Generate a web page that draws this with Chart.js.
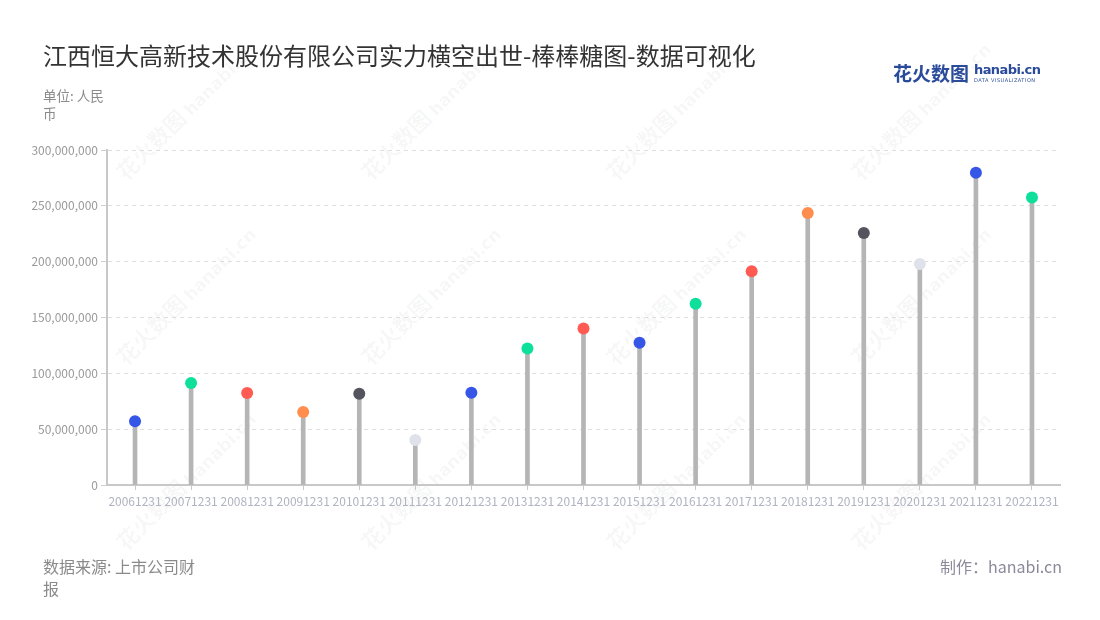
<!DOCTYPE html>
<html>
<head>
<meta charset="utf-8">
<script src="https://cdn.jsdelivr.net/npm/chart.js@4"></script>
<style>
  html, body { margin: 0; padding: 0; background: #fff; }
  body { width: 1100px; height: 620px; position: relative; overflow: hidden; font-family: "Noto Sans CJK SC", "Noto Sans", sans-serif; }
  #wrap { position: absolute; left: 0; top: 0; width: 1100px; height: 620px; }
  .title { position: absolute; left: 43px; top: 37px; font-size: 24px; color: #333; white-space: nowrap; }
  .unit { position: absolute; left: 43px; top: 86px; width: 72px; font-size: 13.5px; line-height: 18px; color: #8a8a8a; }
  .source { position: absolute; left: 43px; top: 555px; width: 158px; font-size: 16px; line-height: 22px; color: #8a8a8a; }
  .maker { position: absolute; right: 38px; top: 555px; font-size: 16px; line-height: 22px; color: #8a8a9a; white-space: nowrap; }
  .logo { position: absolute; left: 893px; top: 59px; white-space: nowrap; }
  .logo .cn { font-size: 19px; font-weight: bold; color: #2a4b9b; vertical-align: top; }
  .logo .en { display: inline-block; vertical-align: top; margin-left: 5px; line-height: 1; }
  .logo .en .big { font-size: 13px; font-weight: bold; color: #2a4b9b; font-family: "DejaVu Sans", sans-serif; letter-spacing: -0.6px; display: block; margin-top: 4px; }
  .logo .en .small { font-size: 5px; color: #2a4b9b; font-family: "DejaVu Sans", sans-serif; display: block; letter-spacing: 0.5px; margin-top: 2px; }
  .wm { position: absolute; white-space: nowrap; transform-origin: 0 100%; transform: rotate(-45deg); color: rgba(0,0,0,0.045); line-height: 1; }
  .wm .a { font-size: 22px; font-weight: bold; }
  .wm .b { font-size: 17px; font-weight: bold; font-family: "DejaVu Sans", sans-serif; margin-left: 4px; }
</style>
</head>
<body>
<div id="wmlayer"></div>
<div id="wrap"><canvas id="c" width="1100" height="620"></canvas></div>
<div class="title">江西恒大高新技术股份有限公司实力横空出世-棒棒糖图-数据可视化</div>
<div class="unit">单位: 人民币</div>
<div class="source">数据来源: 上市公司财报</div>
<div class="maker">制作：hanabi.cn</div>
<div class="logo"><span class="cn">花火数图</span><span class="en"><span class="big">hanabi.cn</span><span class="small">DATA VISUALIZATION</span></span></div>
<script>
const categories = ["20061231","20071231","20081231","20091231","20101231","20111231","20121231","20131231","20141231","20151231","20161231","20171231","20181231","20191231","20201231","20211231","20221231"];
const values = [57000000, 91300000, 82400000, 65400000, 81800000, 40300000, 82700000, 122300000, 140100000, 127300000, 162400000, 191500000, 243500000, 225600000, 197900000, 279600000, 257500000];
const pointColors = ["#3656e8","#0ee09c","#ff5b52","#ff8e4e","#54545e","#dfe2ea","#3656e8","#0ee09c","#ff5b52","#3656e8","#0ee09c","#ff5b52","#ff8e4e","#54545e","#dfe2ea","#3656e8","#0ee09c"];
const yTicks = [0, 50000000, 100000000, 150000000, 200000000, 250000000, 300000000];

// faint background watermarks
const wmLayer = document.getElementById('wmlayer');
const wmCols = [128, 373, 618, 863];
const wmRows = [182, 367, 552];
wmRows.forEach(r => wmCols.forEach(c => {
  const d = document.createElement('div');
  d.className = 'wm';
  d.style.left = c + 'px';
  d.style.top = (r - 22) + 'px';
  d.innerHTML = '<span class="a">花火数图</span><span class="b">hanabi.cn</span>';
  wmLayer.appendChild(d);
}));

const FONT = '"Noto Sans CJK SC", "Noto Sans", sans-serif';

new Chart(document.getElementById('c'), {
  data: {
    labels: categories,
    datasets: [
      {
        type: 'line',
        data: values,
        showLine: false,
        pointRadius: 6,
        pointHoverRadius: 6,
        pointBorderWidth: 0,
        pointBackgroundColor: pointColors,
        pointBorderColor: pointColors,
        order: 0
      },
      {
        type: 'bar',
        data: values,
        backgroundColor: '#b5b5b5',
        barThickness: 4,
        order: 1
      }
    ]
  },
  options: {
    responsive: false,
    animation: false,
    events: [],
    layout: { padding: { left: 0, right: 40, top: 150, bottom: 105 } },
    plugins: { legend: { display: false }, tooltip: { enabled: false } },
    scales: {
      x: {
        type: 'category',
        offset: true,
        grid: { display: true, drawOnChartArea: false, drawTicks: true, tickLength: 5, color: '#c8c8c8', offset: false, lineWidth: 1 },
        border: { display: true, color: '#c8c8c8', width: 2 },
        ticks: { autoSkip: false, maxRotation: 0, minRotation: 0, color: '#b0b3c0', font: { family: FONT, size: 12 }, padding: 4 },
        afterFit: (s) => { s.height = 30; }
      },
      y: {
        min: 0,
        max: 300000000,
        afterBuildTicks: (s) => { s.ticks = yTicks.map(v => ({ value: v })); },
        grid: { display: true, drawOnChartArea: true, drawTicks: true, tickLength: 6, color: (ctx) => ctx.tick && ctx.tick.value === 0 ? 'rgba(0,0,0,0)' : '#dedede', tickColor: '#d0d0d0', lineWidth: 1 },
        border: { display: true, color: '#c8c8c8', width: 2, dash: [4, 4] },
        ticks: { color: '#9a9a9a', font: { family: FONT, size: 12 }, padding: 3, callback: (v) => Number(v).toLocaleString('en-US') },
        afterFit: (s) => { s.width = 107; }
      }
    }
  }
});
</script>
</body>
</html>
